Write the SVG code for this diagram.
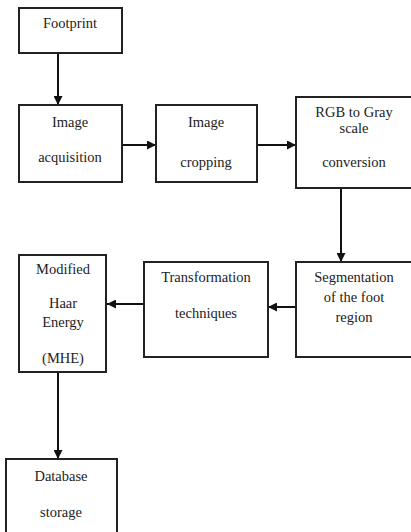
<svg xmlns="http://www.w3.org/2000/svg" width="411" height="532" viewBox="0 0 411 532">
<defs>
<marker id="ah" viewBox="0 0 10 10" refX="10" refY="5" markerWidth="4.5" markerHeight="4.5" orient="auto" markerUnits="strokeWidth">
<path d="M0,0 L10,5 L0,10 Z" fill="#111"/>
</marker>
</defs>
<style>
.box{fill:#fff;stroke:#222;stroke-width:2}
.t{font-family:"Liberation Serif","Times New Roman",serif;font-size:14.5px;fill:#222;text-anchor:middle}
.c{stroke:#111;stroke-width:2;fill:none;marker-end:url(#ah)}
</style>
<rect width="411" height="532" fill="#fff"/>
<g id="connectors">
<line class="c" x1="58" y1="53" x2="58" y2="105"/>
<line class="c" x1="122" y1="145" x2="156" y2="145"/>
<line class="c" x1="257" y1="145" x2="296" y2="145"/>
<line class="c" x1="341" y1="188" x2="341" y2="262"/>
<line class="c" x1="296" y1="307" x2="268" y2="307"/>
<line class="c" x1="144" y1="304" x2="107" y2="304"/>
<line class="c" x1="58" y1="372" x2="58" y2="459"/>
</g>
<g id="footprint">
<rect class="box" x="19" y="8" width="103" height="45"/>
<text class="t" x="70" y="28">Footprint</text>
</g>
<g id="acquisition">
<rect class="box" x="19" y="105" width="103" height="77"/>
<text class="t" x="70" y="127">Image</text>
<text class="t" x="70" y="162">acquisition</text>
</g>
<g id="cropping">
<rect class="box" x="156" y="105" width="101" height="77"/>
<text class="t" x="206" y="127">Image</text>
<text class="t" x="206" y="167">cropping</text>
</g>
<g id="rgb">
<rect class="box" x="296" y="97" width="120" height="91"/>
<text class="t" x="354" y="117">RGB to Gray</text>
<text class="t" x="354" y="133">scale</text>
<text class="t" x="354" y="167">conversion</text>
</g>
<g id="segmentation">
<rect class="box" x="296" y="262" width="120" height="95"/>
<text class="t" x="354" y="282">Segmentation</text>
<text class="t" x="354" y="302">of the foot</text>
<text class="t" x="354" y="322">region</text>
</g>
<g id="transformation">
<rect class="box" x="144" y="262" width="124" height="95"/>
<text class="t" x="206" y="282">Transformation</text>
<text class="t" x="206" y="318">techniques</text>
</g>
<g id="mhe">
<rect class="box" x="19" y="255" width="87" height="117"/>
<text class="t" x="63" y="274">Modified</text>
<text class="t" x="63" y="308">Haar</text>
<text class="t" x="63" y="327">Energy</text>
<text class="t" x="63" y="363">(MHE)</text>
</g>
<g id="database">
<rect class="box" x="6" y="459" width="111" height="80"/>
<text class="t" x="61" y="481">Database</text>
<text class="t" x="61" y="517">storage</text>
</g>
</svg>
